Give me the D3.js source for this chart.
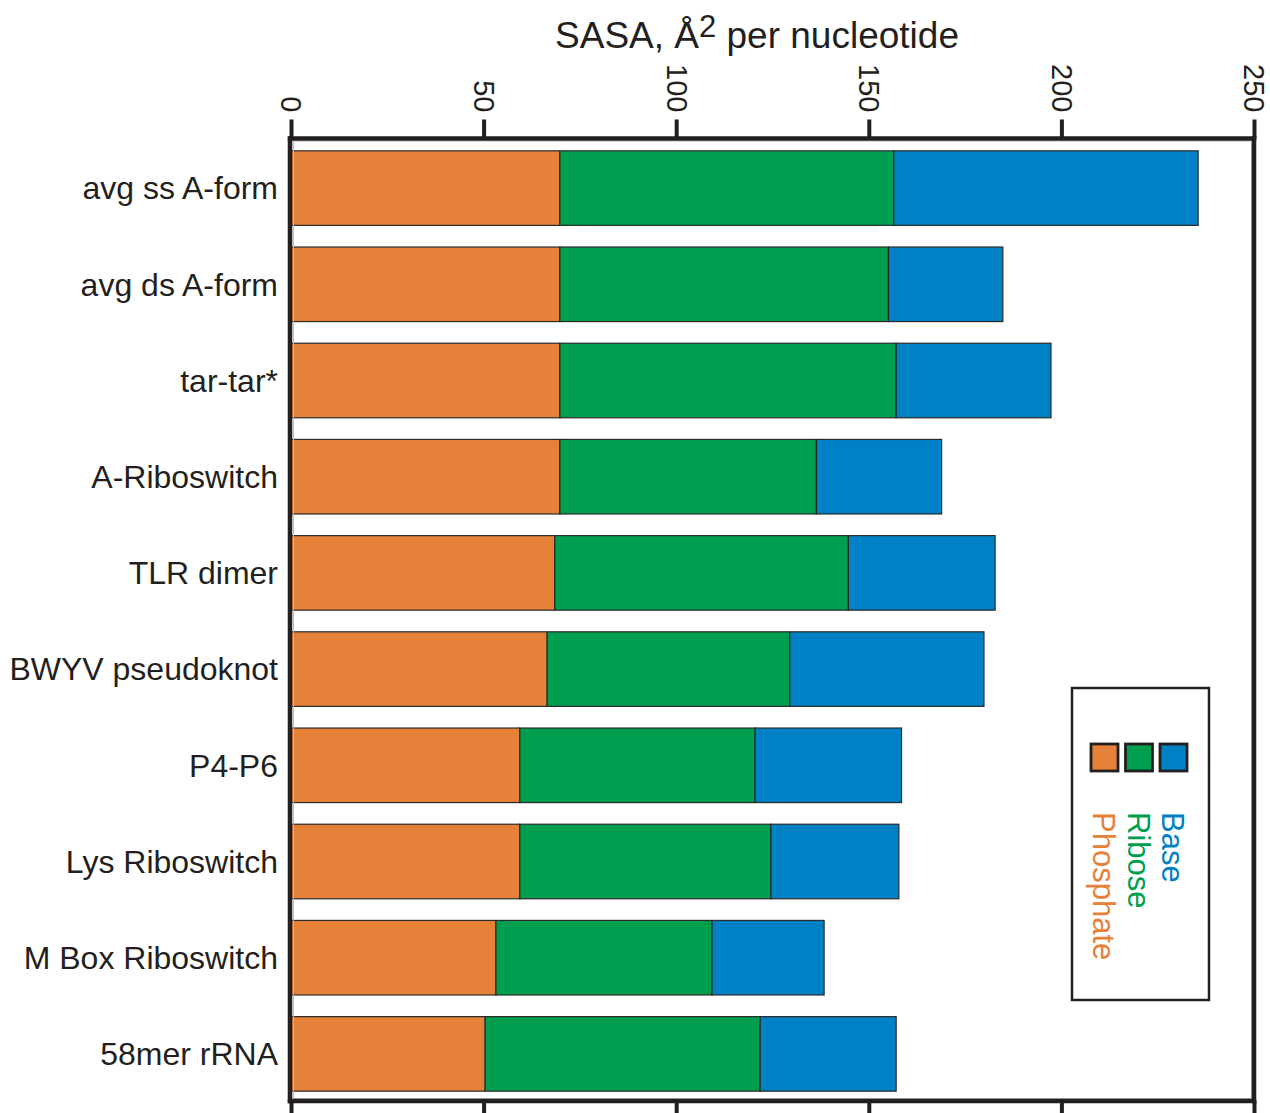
<!DOCTYPE html>
<html>
<head>
<meta charset="utf-8">
<script src="https://cdn.jsdelivr.net/npm/d3@7"></script>
<style>
  html, body { margin: 0; padding: 0; background: #fff; }
  svg { display: block; font-family: "Liberation Sans", Arial, Helvetica, sans-serif; }
</style>
</head>
<body>
<svg id="chart" width="1270" height="1113"></svg>
<script>
// Solvent-accessible surface area per nucleotide, split by component
const categories = ["avg ss A-form", "avg ds A-form", "tar-tar*", "A-Riboswitch", "TLR dimer",
  "BWYV pseudoknot", "P4-P6", "Lys Riboswitch", "M Box Riboswitch", "58mer rRNA"];
const phosphate = [69.8, 69.8, 69.8, 69.8, 68.5, 66.5, 59.4, 59.4, 53.2, 50.4];
const ribose    = [86.7, 85.3, 87.3, 66.6, 76.2, 63.0, 61.1, 65.2, 56.1, 71.4];
const base      = [79.0, 29.7, 40.2, 32.5, 38.1, 50.4, 38.0, 33.2, 29.1, 35.3];
const seriesNames = ["Phosphate", "Ribose", "Base"];
const tickValues = [0, 50, 100, 150, 200, 250];

const colors = { Phosphate: "#E6813A", Ribose: "#009E4F", Base: "#0080C5" };
const ink = "#231F20";

const svg = d3.select("#chart");

const plotLeft = 291, plotRight = 1254, plotTop = 138.5, plotBottom = 1101;

const x = d3.scaleLinear().domain([0, 250]).range([plotLeft, plotRight]);
const y = d3.scaleBand().domain(categories).range([plotTop + 1.5, plotBottom + 1])
  .paddingInner(0.225).paddingOuter(0.1125);

const rows = categories.map((c, i) => ({ name: c, Phosphate: phosphate[i], Ribose: ribose[i], Base: base[i] }));
const stacked = d3.stack().keys(seriesNames)(rows);

// stacked bars
const g = svg.append("g");
stacked.forEach(layer => {
  g.append("g").selectAll("rect").data(layer).join("rect")
    .attr("x", d => x(d[0]))
    .attr("y", d => y(d.data.name))
    .attr("width", d => x(d[1]) - x(d[0]))
    .attr("height", y.bandwidth())
    .attr("fill", colors[layer.key])
    .attr("stroke", "#2a2a2a")
    .attr("stroke-width", 1.2);
});

// faint inner frame
svg.append("rect")
  .attr("x", plotLeft + 2.5).attr("y", plotTop + 2.5)
  .attr("width", plotRight - plotLeft - 5).attr("height", plotBottom - plotTop - 5)
  .attr("fill", "none").attr("stroke", "#bdbdbd").attr("stroke-width", 1);

// top axis with rotated labels
const topAxis = d3.axisTop(x).tickValues(tickValues).tickSize(19).tickPadding(0).tickSizeOuter(0);
const ta = svg.append("g").attr("transform", `translate(0,${plotTop})`).call(topAxis);
ta.select(".domain").remove();
ta.selectAll(".tick line").attr("stroke", ink).attr("stroke-width", 4);
ta.selectAll(".tick text")
  .attr("font-size", 29)
  .attr("fill", ink)
  .attr("font-family", "Liberation Sans, Arial, sans-serif")
  .attr("text-anchor", "end")
  .attr("x", 0).attr("y", 0).attr("dy", "0.35em")
  .attr("transform", "translate(0,-26) rotate(90)");

// bottom axis ticks (no labels)
const bottomAxis = d3.axisBottom(x).tickValues(tickValues).tickSize(14).tickFormat("").tickSizeOuter(0);
const ba = svg.append("g").attr("transform", `translate(0,${plotBottom})`).call(bottomAxis);
ba.select(".domain").remove();
ba.selectAll(".tick line").attr("stroke", ink).attr("stroke-width", 4);

// heavy frame
const frame = svg.append("g").attr("stroke", ink).attr("stroke-width", 4.5).attr("stroke-linecap", "square");
frame.append("line").attr("x1", plotLeft - 1).attr("x2", plotRight).attr("y1", plotTop).attr("y2", plotTop);
frame.append("line").attr("x1", plotLeft - 1).attr("x2", plotRight).attr("y1", plotBottom).attr("y2", plotBottom);
frame.append("line").attr("x1", plotLeft - 1).attr("x2", plotLeft - 1).attr("y1", plotTop).attr("y2", plotBottom);
frame.append("line").attr("x1", plotRight).attr("x2", plotRight).attr("y1", plotTop).attr("y2", plotBottom);

// category labels
svg.append("g").selectAll("text").data(categories).join("text")
  .attr("x", 278)
  .attr("y", d => y(d) + y.bandwidth() / 2)
  .attr("dy", "0.35em")
  .attr("text-anchor", "end")
  .attr("font-size", 32)
  .attr("fill", ink)
  .text(d => d);

// axis title
const title = svg.append("text")
  .attr("x", 757).attr("y", 48)
  .attr("text-anchor", "middle")
  .attr("font-size", 37)
  .attr("fill", ink);
title.append("tspan").text("SASA, Å");
title.append("tspan").attr("dy", -11).attr("font-size", 31).text("2");
title.append("tspan").attr("dy", 11).text(" per nucleotide");

// legend
const lg = svg.append("g");
lg.append("rect")
  .attr("x", 1072).attr("y", 688).attr("width", 137).attr("height", 312)
  .attr("fill", "#fff").attr("stroke", ink).attr("stroke-width", 2.5);
const swX = d3.scalePoint().domain(seriesNames).range([1091, 1160]);
lg.selectAll("rect.sw").data(seriesNames).join("rect")
  .attr("class", "sw")
  .attr("x", d => swX(d)).attr("y", 744)
  .attr("width", 27).attr("height", 27)
  .attr("fill", d => colors[d])
  .attr("stroke", ink).attr("stroke-width", 2.8);
lg.selectAll("text").data(seriesNames).join("text")
  .attr("transform", d => `translate(${swX(d) + 2},812) rotate(90)`)
  .attr("text-anchor", "start")
  .attr("font-size", 31)
  .attr("fill", d => colors[d])
  .text(d => d);
</script>
</body>
</html>
